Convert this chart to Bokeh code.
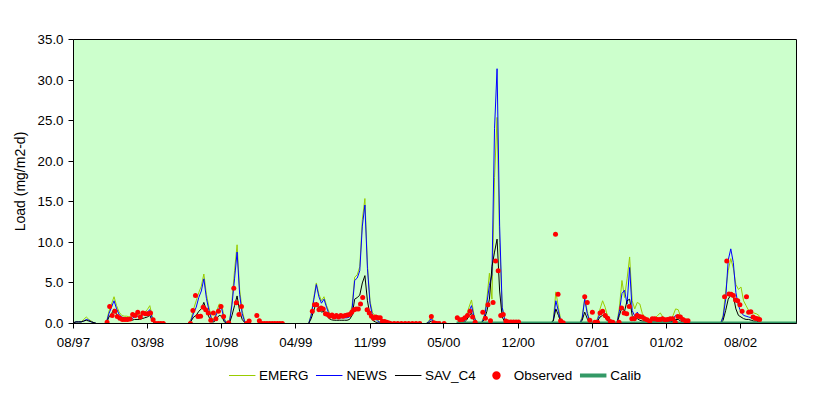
import numpy as np
import pandas as pd
from bokeh.plotting import figure
from bokeh.layouts import column
from bokeh.models import (Range1d, FixedTicker, NumeralTickFormatter, DatetimeTickFormatter,
                          Legend, LegendItem)
from bokeh.embed import file_html
from bokeh.resources import INLINE

# ---------------- data ----------------
axis_start = "1997-08-21"
axis_end = "2003-01-22"
tick_dates = ["1997-08-21", "1998-03-12", "1998-10-01", "1999-04-22", "1999-11-11",
              "2000-05-31", "2000-12-21", "2001-07-12", "2002-01-31", "2002-08-22"]
y_ticks = [0, 5, 10, 15, 20, 25, 30, 35]

# model runs: weekly values for each wet-season segment
model_start = ["1997-08-21", "1997-11-19", "1998-07-02", "1999-05-27", "2000-04-13",
               "2000-07-11", "2001-03-20", "2001-06-07", "2001-09-17", "2002-06-28"]
emerg = [
    [0.1, 0.2, 0.2, 0.2, 0.5, 0.8, 0.5, 0.3, 0.1, 0],
    [0.1, 1.5, 2.4, 3.3, 2.2, 1.4, 1.0, 0.9, 0.9, 0.8, 0.8, 1.0, 1.1, 1.1, 1.3, 1.4, 1.7, 2.2, 0.8, 0],
    [0, 0.6, 1.8, 2.8, 3.8, 4.6, 6.1, 3.6, 2.0, 0.7, 0.5, 1.5, 2.4, 2.3, 0.6, 0.1, 0.1, 2.8, 6.5, 9.7, 4.2, 1.6, 0.3, 0],
    [0, 1.2, 3.2, 5.0, 3.6, 2.8, 3.3, 2.2, 1.4, 1.0, 0.9, 0.9, 0.9, 0.9, 0.9, 0.9, 1.0, 2.2, 5.7, 6.0, 7.0, 12.8, 15.4, 7.2, 2.8, 1.3, 1.0, 0.4, 0.2, 0],
    [0, 0.3, 0.9, 0.2, 0],
    [0, 0, 0.3, 1.0, 2.0, 2.9, 1.0, 0.1, 0, 0.2, 1.0, 3.0, 6.2, 3.0, 18.0, 25.4, 10.0, 2.0, 0.5, 0.1, 0],
    [0, 0.5, 3.9, 2.0, 0.3, 0],
    [0, 0.8, 3.1, 1.5, 0.2, 0.1, 0.1, 0.6, 1.8, 2.8, 2.0, 0.8, 0.2, 0],
    [0, 2.0, 5.3, 3.2, 5.5, 8.2, 2.8, 1.8, 2.6, 2.4, 1.2, 0.8, 0.6, 0.5, 0.5, 0.7, 1.0, 1.3, 0.8, 0.6, 0.5, 0.4, 1.0, 1.8, 1.7, 0.8, 0.3, 0],
    [0, 1.0, 4.0, 6.5, 8.0, 6.8, 4.8, 4.2, 4.5, 2.8, 2.2, 1.6, 1.4, 1.3, 1.2, 1.0, 0],
]
news = [
    [0.1, 0.2, 0.2, 0.2, 0.3, 0.5, 0.4, 0.2, 0.1, 0],
    [0.1, 1.2, 2.0, 2.8, 1.8, 1.1, 0.8, 0.7, 0.7, 0.6, 0.6, 0.8, 0.9, 0.9, 1.0, 1.2, 1.4, 1.7, 0.6, 0],
    [0, 0.4, 1.3, 2.0, 3.2, 4.0, 5.5, 3.1, 1.6, 0.5, 0.4, 1.2, 1.9, 1.8, 0.4, 0.1, 0.1, 2.3, 5.5, 8.8, 3.6, 1.2, 0.2, 0],
    [0, 1.0, 2.9, 4.8, 3.3, 2.5, 3.0, 2.0, 1.1, 0.8, 0.7, 0.7, 0.7, 0.7, 0.7, 0.7, 0.8, 1.8, 5.3, 5.6, 6.5, 12.0, 14.6, 6.8, 2.5, 0.9, 0.6, 0.3, 0.1, 0],
    [0, 0.2, 0.6, 0.1, 0],
    [0, 0, 0.2, 0.8, 1.5, 2.2, 0.8, 0.1, 0, 0.1, 0.8, 2.5, 4.7, 6.0, 24.0, 31.4, 12.0, 2.0, 0.4, 0.1, 0],
    [0, 0.4, 2.8, 1.5, 0.2, 0],
    [0, 0.6, 3.0, 1.2, 0.2, 0.1, 0.1, 0.5, 1.2, 1.6, 1.2, 0.5, 0.1, 0],
    [0, 1.5, 3.7, 4.1, 2.4, 6.9, 1.6, 0.9, 1.4, 0.8, 0.6, 0.5, 0.4, 0.4, 0.4, 0.5, 0.5, 0.6, 0.5, 0.4, 0.3, 0.3, 0.6, 1.0, 0.9, 0.5, 0.2, 0],
    [0, 0.8, 3.0, 7.8, 9.2, 7.5, 3.8, 2.2, 1.4, 1.0, 0.9, 0.8, 0.7, 0.6, 0.5, 0.4, 0],
]
sav_c4 = [
    [0.1, 0.2, 0.2, 0.2, 0.3, 0.4, 0.3, 0.2, 0.1, 0],
    [0, 0.8, 1.2, 1.8, 1.1, 0.6, 0.5, 0.4, 0.4, 0.4, 0.4, 0.5, 0.5, 0.5, 0.6, 0.7, 0.8, 1.0, 0.3, 0],
    [0, 0.3, 0.8, 1.0, 1.5, 1.8, 2.6, 1.6, 0.8, 0.2, 0.2, 0.6, 1.0, 0.9, 0.2, 0, 0, 1.0, 2.2, 3.4, 1.5, 0.5, 0.1, 0],
    [0, 0.6, 1.6, 2.6, 1.8, 1.4, 1.5, 1.0, 0.6, 0.45, 0.4, 0.4, 0.4, 0.4, 0.4, 0.4, 0.5, 1.0, 3.0, 3.2, 3.5, 5.0, 5.9, 2.8, 1.0, 0.4, 0.2, 0.1, 0, 0],
    [0, 0.1, 0.3, 0.05, 0],
    [0, 0, 0.1, 0.4, 0.9, 1.3, 0.4, 0, 0, 0.1, 0.5, 1.5, 3.0, 7.0, 8.8, 10.4, 4.0, 0.8, 0.2, 0, 0],
    [0, 0.3, 1.8, 1.0, 0.1, 0],
    [0, 0.4, 1.4, 0.6, 0.1, 0, 0, 0.3, 0.8, 1.0, 0.7, 0.3, 0.1, 0],
    [0, 1.0, 2.0, 1.5, 2.8, 3.0, 1.0, 0.6, 0.6, 0.4, 0.3, 0.3, 0.3, 0.3, 0.3, 0.3, 0.3, 0.3, 0.3, 0.3, 0.2, 0.2, 0.3, 0.5, 0.5, 0.3, 0.1, 0],
    [0, 0.4, 1.6, 3.0, 3.5, 3.4, 1.8, 1.0, 0.8, 0.6, 0.5, 0.5, 0.4, 0.3, 0.3, 0.2, 0],
]
model_step_days = 7

# observed samples: start date, sampling step (days), values (nan = no sample)
nan = float("nan")
obs_start = ["1997-11-21", "1998-07-07", "1999-06-06", "2000-01-06", "2000-04-27",
             "2000-07-07", "2001-04-02", "2001-06-21", "2001-09-23", "2002-07-09"]
obs_step = [7, 7, 6, 10, 7, 7, 7, 7, 7, 6]
observed = [
    [0.15, 2.1, 1.0, 1.5, 0.85, 0.65, 0.5, 0.5, 0.5, 0.55, 1.1, 1.0, 1.4, 0.8, 1.3, 1.2, 1.2, 1.3, 0.45, 0, 0, 0, 0],
    [0, 1.6, 3.45, 0.85, 0.9, 2.0, 1.7, 1.3, 0.4, 1.3, 0.6, 1.5, 2.1, 0.85, nan, 0.1, nan, 4.35, 2.55, 1.1, 2.1, nan,
     0, 0.3, nan, nan, 1.0, 0.35, 0, 0, 0, 0, 0, 0, 0, 0, 0],
    [1.5, 2.3, 2.3, 1.7, 1.9, 1.8, 1.2, 1.1, 0.9, 1.05, 0.8, 1.0, 0.8, 1.0, 0.9, 1.0, 1.05, 1.1, 1.4, 1.7, 1.8, 1.8,
     2.4, 3.2, nan, 1.7, 1.3, 0.9, 0.65, 0.8, 0.7, 0.7, 0.25, 0.25, 0.15, 0.05],
    [0, 0, 0, 0, 0, 0, 0, 0, 0],
    [0.85, 0.1, 0, 0, nan, 0],
    [0.7, 0.45, 0.5, 0.7, 1.0, 1.5, 0.8, 0.15, nan, nan, 1.4, 0.65, 2.3, 0.35, 2.6, 7.7, 6.5, 1.0, 1.1, 0.3,
     0.2, 0.2, 0.2, 0.2, 0.2],
    [11.0, 3.6, 0.35, 0.1],
    [3.3, 2.6, 0.4, 1.4, 0.15, 0.15, 1.3, 1.5, 1.0, 0.65, 0.25, 0.15],
    [0.15, 1.9, 1.3, 1.2, 2.1, 0.6, 0.6, 1.0, 0.85, 0.8, 0.6, 0.45, 0.25, 0.6, 0.6, 0.5, 0.5, 0.6, 0.45, 0.5,
     0.6, 0.6, 0.15, 0.85, 0.8, 0.5, 0.35, 0.35],
    [3.3, 7.7, 3.65, 3.6, 3.45, 2.9, 2.8, 2.3, 1.5, nan, 3.3, 1.4, 1.45, 0.8, 0.65, 0.6, 0.5],
]

calib_dates = ["2000-07-05", "2003-01-22"]
calib = [0.0, 0.0]

series_names = ["EMERG", "NEWS", "SAV_C4", "Observed", "Calib"]


def build(starts, steps, segs):
    xs, ys = [], []
    for s, st, vals in zip(starts, steps, segs):
        d = pd.date_range(s, periods=len(vals), freq=f"{st}D")
        xs.extend(list(d))
        ys.extend(vals)
        xs.append(d[-1])
        ys.append(nan)
    return pd.to_datetime(xs).values, np.array(ys, dtype=float)


steps_m = [model_step_days] * len(model_start)
x_e, y_e = build(model_start, steps_m, emerg)
x_n, y_n = build(model_start, steps_m, news)
x_s, y_s = build(model_start, steps_m, sav_c4)
x_o, y_o = build(obs_start, obs_step, observed)
x_c = pd.to_datetime(calib_dates).values

FONT = "Liberation Sans"
C_E, C_N, C_S, C_O, C_C = "#99CC00", "#0000FF", "#000000", "#FF0000", "#339966"

p = figure(width=821, height=353, x_axis_type="datetime", output_backend="svg",
           toolbar_location=None,
           x_range=Range1d(pd.Timestamp(axis_start), pd.Timestamp(axis_end)),
           y_range=Range1d(0, 35),
           min_border_left=73, min_border_right=25, min_border_top=39, min_border_bottom=30)

p.background_fill_color = "#CCFFCC"
p.border_fill_color = "white"
p.outline_line_color = "black"
p.outline_line_width = 1
p.xgrid.visible = False
p.ygrid.visible = False

p.line(x_e, y_e, line_color=C_E, line_width=1)
p.line(x_n, y_n, line_color=C_N, line_width=1)
p.line(x_s, y_s, line_color=C_S, line_width=1)
p.line(x_c, calib, line_color=C_C, line_width=4)
p.scatter(x_o, y_o, marker="circle", size=5, fill_color=C_O, line_color=None)

# axes
p.xaxis.ticker = FixedTicker(ticks=[pd.Timestamp(d).value // 10**6 for d in tick_dates])
fmt = "%m/%y"
p.xaxis.formatter = DatetimeTickFormatter(microseconds=fmt, milliseconds=fmt, seconds=fmt, minsec=fmt,
                                          minutes=fmt, hourmin=fmt, hours=fmt, days=fmt,
                                          months=fmt, years=fmt)
p.yaxis.ticker = FixedTicker(ticks=y_ticks)
p.yaxis.formatter = NumeralTickFormatter(format="0.0")
p.yaxis.axis_label = "Load (mg/m2-d)"

for ax in (p.xaxis, p.yaxis):
    ax.axis_line_color = "black"
    ax.major_tick_line_color = "black"
    ax.major_tick_in = 0
    ax.major_tick_out = 5
    ax.minor_tick_line_color = None
    ax.major_label_text_font = FONT
    ax.major_label_text_font_size = "13.3px"
    ax.major_label_text_color = "black"
    ax.axis_label_text_font = FONT
    ax.axis_label_text_font_size = "14px"
    ax.axis_label_text_font_style = "normal"
    ax.axis_label_text_color = "black"
p.xaxis.major_label_standoff = 6
p.yaxis.major_label_standoff = 5
p.yaxis.axis_label_standoff = 7

# ---- legend strip below the chart (same series styles) ----
lg = figure(width=821, height=44, output_backend="svg", toolbar_location=None,
            x_range=Range1d(0, 1), y_range=Range1d(0, 1),
            x_axis_location=None, y_axis_location=None,
            min_border_left=73, min_border_right=25, min_border_top=0, min_border_bottom=0)
lg.outline_line_color = None
lg.background_fill_color = "white"
lg.border_fill_color = "white"
lg.xgrid.visible = False
lg.ygrid.visible = False
off = [-10]
g_e = lg.line(off, off, line_color=C_E, line_width=1)
g_n = lg.line(off, off, line_color=C_N, line_width=1)
g_s = lg.line(off, off, line_color=C_S, line_width=1)
g_o = lg.scatter(off, off, marker="circle", size=3, fill_color=C_O, line_color=None)
g_c = lg.line(off, off, line_color=C_C, line_width=4)

legend = Legend(items=[LegendItem(label=n, renderers=[r]) for n, r in
                       zip(series_names, [g_e, g_n, g_s, g_o, g_c])],
                orientation="horizontal", location="center")
legend.glyph_width = 27
legend.glyph_height = 21
legend.label_height = 21
legend.label_standoff = 4
legend.spacing = 7
legend.padding = 0
legend.margin = 0
legend.border_line_color = None
legend.background_fill_alpha = 0
legend.label_text_font = FONT
legend.label_text_font_size = "13.5px"
legend.label_text_color = "black"
lg.add_layout(legend, "center")

layout = column(p, lg, spacing=0)
open("out.html", "w").write(file_html(layout, INLINE))
